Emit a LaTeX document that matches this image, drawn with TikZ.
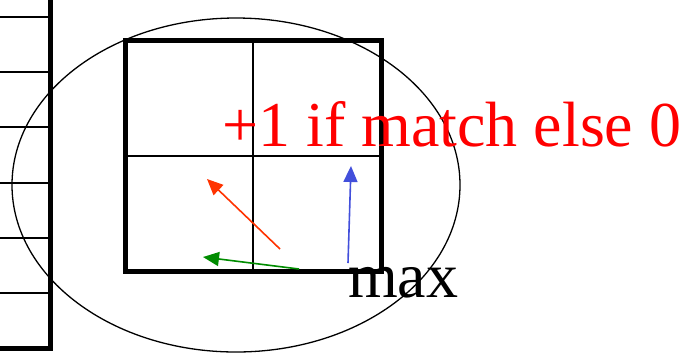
\documentclass[tikz,border=0pt]{standalone}
\usepackage{fontspec}
\setmainfont{Liberation Serif}
\usetikzlibrary{arrows.meta,positioning}
\definecolor{matchred}{rgb}{1,0,0}
\definecolor{diagred}{rgb}{1,0.2,0}
\definecolor{leftgreen}{rgb}{0,0.55,0}
\definecolor{upblue}{rgb}{0.26,0.31,0.86}
\tikzset{
  thickline/.style={line width=5pt},
  thinline/.style={line width=2.5pt},
  move/.style={line width=1.6pt,-{Triangle[length=16pt,width=14pt]}},
  bigtext/.style={inner sep=0pt,anchor=base west,font=\fontsize{64}{64}\selectfont}
}
\begin{document}
\begin{tikzpicture}[x=1pt,y=-1pt]
        \useasboundingbox (0,0) rectangle (698,360);
        % column on the left
        \draw[thickline] (50,0) -- (50,348);
        \foreach \y in {17,72,127,183,238,293}
            \draw[thinline] (0,\y) -- (50,\y);
        \draw[thickline] (0,348) -- (52.5,348);
        % ellipse round the cell
        \draw[line width=1.3pt] (236,185) ellipse [x radius=224, y radius=167];
        % 2x2 table
        \draw[thickline] (125,40) rectangle (381,271);
        \draw[thinline] (253,40) -- (253,271);
        \draw[thinline] (125,156) -- (381,156);
        % moves
        \coordinate (diagfrom) at (280,249);
        \coordinate (diagto) at (207,179);
        \coordinate (leftfrom) at (299,269);
        \coordinate (leftto) at (203,257);
        \coordinate (upfrom) at (348,263);
        \coordinate (upto) at (351,166);
        \draw[move,diagred] (diagfrom) -- (diagto);
        \draw[move,leftgreen] (leftfrom) -- (leftto);
        \draw[move,upblue] (upfrom) -- (upto);
        % labels
        \node[bigtext,text=matchred] (matchlabel) at (222,146) {+1 if match else 0};
        \node[bigtext] (maxlabel) at (348,297) {max};
    \end{tikzpicture}
\end{document}
